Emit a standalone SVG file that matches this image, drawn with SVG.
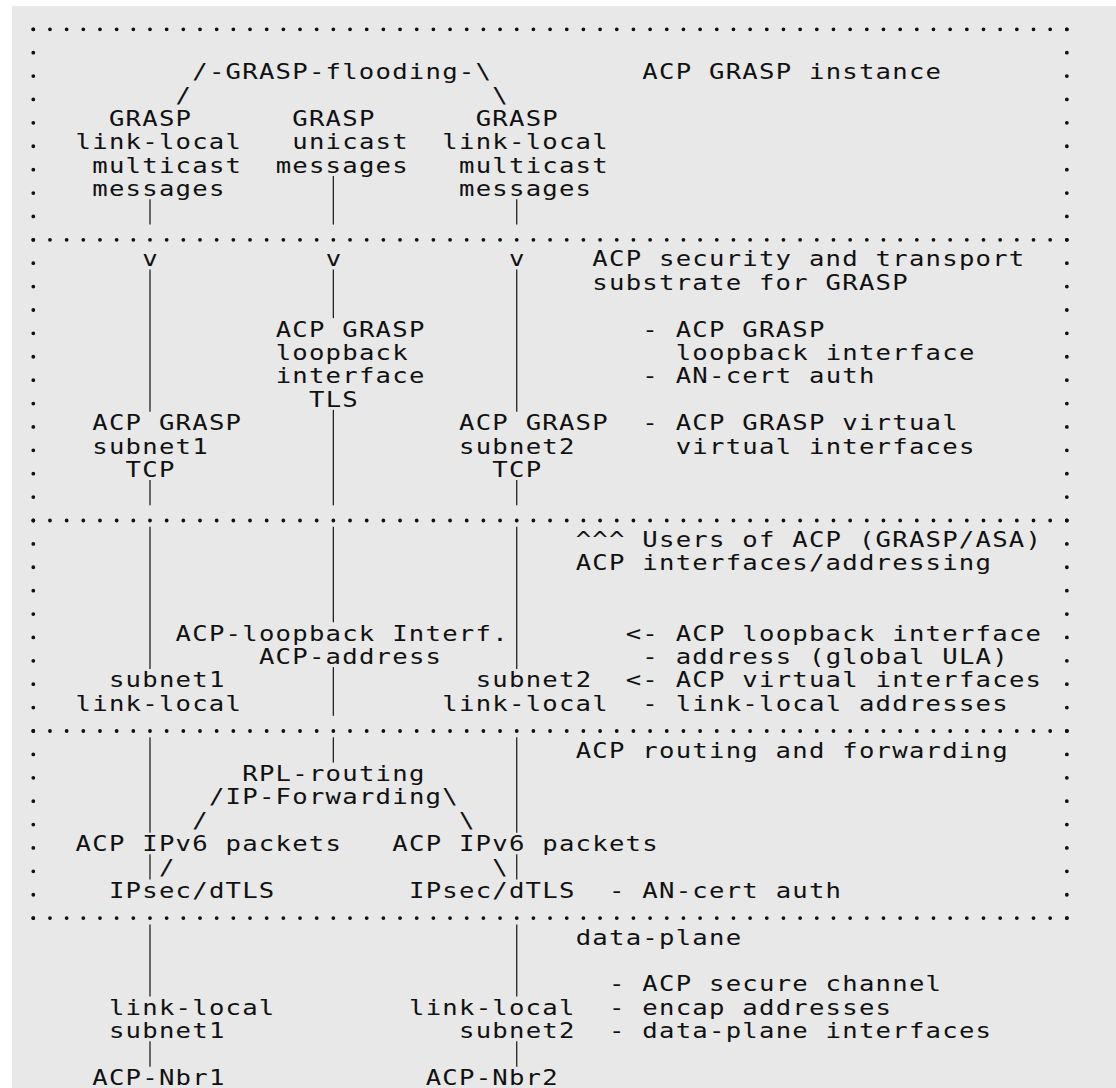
<svg xmlns="http://www.w3.org/2000/svg" width="1116" height="1088" viewBox="0 0 1116 1088">
<style>
text{font-family:"DejaVu Sans Mono","Liberation Mono",monospace;font-size:20.5px;letter-spacing:0.995px;fill:#111;white-space:pre}
.conn line{stroke:#222;stroke-width:1.3;fill:none}
.frame line{stroke:#111;stroke-width:3.8;stroke-linecap:round}
.h{stroke-dasharray:0 16.67}
.v{stroke-dasharray:0 23.39}
</style>
<rect x="12" y="6" width="1104" height="1082" fill="#e8e8e8"/>
<g id="frame" class="frame">
<line class="h" x1="33.3" y1="29.3" x2="1066.9" y2="29.3"/>
<line class="h" x1="33.3" y1="239.81" x2="1066.9" y2="239.81"/>
<line class="h" x1="33.3" y1="520.49" x2="1066.9" y2="520.49"/>
<line class="h" x1="33.3" y1="731.0" x2="1066.9" y2="731.0"/>
<line class="h" x1="33.3" y1="918.12" x2="1066.9" y2="918.12"/>
<line class="v" x1="33.3" y1="29.3" x2="33.3" y2="918.2"/>
<line class="v" x1="1066.84" y1="29.3" x2="1066.84" y2="918.2"/>
</g>
<g id="connectors" class="conn">
<line x1="149.99" y1="199.32" x2="149.99" y2="224.62"/>
<line x1="149.99" y1="269.49" x2="149.99" y2="411.74"/>
<line x1="149.99" y1="480.0" x2="149.99" y2="505.3"/>
<line x1="149.99" y1="526.78" x2="149.99" y2="669.03"/>
<line x1="149.99" y1="737.29" x2="149.99" y2="832.76"/>
<line x1="149.99" y1="854.24" x2="149.99" y2="879.54"/>
<line x1="149.99" y1="924.41" x2="149.99" y2="996.49"/>
<line x1="149.99" y1="1041.36" x2="149.99" y2="1066.66"/>
<line x1="333.36" y1="175.93" x2="333.36" y2="224.62"/>
<line x1="333.36" y1="269.49" x2="333.36" y2="318.18"/>
<line x1="333.36" y1="409.83" x2="333.36" y2="505.3"/>
<line x1="333.36" y1="526.78" x2="333.36" y2="622.25"/>
<line x1="333.36" y1="667.12" x2="333.36" y2="715.81"/>
<line x1="333.36" y1="737.29" x2="333.36" y2="762.59"/>
<line x1="516.73" y1="199.32" x2="516.73" y2="224.62"/>
<line x1="516.73" y1="269.49" x2="516.73" y2="411.74"/>
<line x1="516.73" y1="480.0" x2="516.73" y2="505.3"/>
<line x1="516.73" y1="526.78" x2="516.73" y2="669.03"/>
<line x1="516.73" y1="737.29" x2="516.73" y2="832.76"/>
<line x1="516.73" y1="854.24" x2="516.73" y2="879.54"/>
<line x1="516.73" y1="924.41" x2="516.73" y2="996.49"/>
<line x1="516.73" y1="1041.36" x2="516.73" y2="1066.66"/>
<g transform="scale(1.25 1)">
<text x="113.82" y="266.4">v</text>
<text x="260.52" y="266.4">v</text>
<text x="407.21" y="266.4">v</text>
<text x="140.49" y="102.67">/</text>
<text x="393.88" y="102.67">\</text>
<text x="153.83" y="827.76">/</text>
<text x="367.21" y="827.76">\</text>
<text x="127.16" y="874.54">/</text>
<text x="393.88" y="874.54">\</text>
</g>
</g>
<g id="labels" transform="scale(1.25 1)">
<g id="grasp-instance-title"><text x="513.9" y="79.28">ACP GRASP instance</text></g>
<g id="grasp-flooding"><text x="153.83" y="79.28">/-GRASP-flooding-\</text></g>
<g id="grasp-mcast-1">
<text x="87.15" y="126.06">GRASP</text>
<text x="60.48" y="149.45">link-local</text>
<text x="73.81" y="172.84">multicast</text>
<text x="73.81" y="196.23">messages</text>
</g>
<g id="grasp-unicast">
<text x="233.85" y="126.06">GRASP</text>
<text x="233.85" y="149.45">unicast</text>
<text x="220.51" y="172.84">messages</text>
</g>
<g id="grasp-mcast-2">
<text x="380.54" y="126.06">GRASP</text>
<text x="353.87" y="149.45">link-local</text>
<text x="367.21" y="172.84">multicast</text>
<text x="367.21" y="196.23">messages</text>
</g>
<g id="security-title">
<text x="473.89" y="266.4">ACP security and transport</text>
<text x="473.89" y="289.79">substrate for GRASP</text>
</g>
<g id="security-notes">
<text x="513.9" y="336.57">- ACP GRASP</text>
<text x="540.57" y="359.96">loopback interface</text>
<text x="513.9" y="383.35">- AN-cert auth</text>
<text x="513.9" y="430.13">- ACP GRASP virtual</text>
<text x="540.57" y="453.52">virtual interfaces</text>
</g>
<g id="grasp-loopback-tls">
<text x="220.51" y="336.57">ACP GRASP</text>
<text x="220.51" y="359.96">loopback</text>
<text x="220.51" y="383.35">interface</text>
<text x="247.18" y="406.74">TLS</text>
</g>
<g id="grasp-subnet1-tcp">
<text x="73.81" y="430.13">ACP GRASP</text>
<text x="73.81" y="453.52">subnet1</text>
<text x="100.49" y="476.91">TCP</text>
</g>
<g id="grasp-subnet2-tcp">
<text x="367.21" y="430.13">ACP GRASP</text>
<text x="367.21" y="453.52">subnet2</text>
<text x="393.88" y="476.91">TCP</text>
</g>
<g id="interfaces-title">
<text x="460.56" y="547.08">^^^ Users of ACP (GRASP/ASA)</text>
<text x="460.56" y="570.47">ACP interfaces/addressing</text>
</g>
<g id="acp-loopback">
<text x="140.49" y="640.64">ACP-loopback Interf.</text>
<text x="207.17" y="664.03">ACP-address</text>
</g>
<g id="subnet1-link-local">
<text x="87.15" y="687.42">subnet1</text>
<text x="60.48" y="710.81">link-local</text>
</g>
<g id="subnet2-link-local">
<text x="380.54" y="687.42">subnet2</text>
<text x="353.87" y="710.81">link-local</text>
</g>
<g id="interfaces-notes">
<text x="500.57" y="640.64">&lt;- ACP loopback interface</text>
<text x="513.9" y="664.03">- address (global ULA)</text>
<text x="500.57" y="687.42">&lt;- ACP virtual interfaces</text>
<text x="513.9" y="710.81">- link-local addresses</text>
</g>
<g id="routing-title"><text x="460.56" y="757.59">ACP routing and forwarding</text></g>
<g id="rpl-routing">
<text x="193.84" y="780.98">RPL-routing</text>
<text x="167.17" y="804.37">/IP-Forwarding\</text>
</g>
<g id="ipv6-packets-1"><text x="60.48" y="851.15">ACP IPv6 packets</text></g>
<g id="ipv6-packets-2"><text x="313.86" y="851.15">ACP IPv6 packets</text></g>
<g id="ipsec-1"><text x="87.15" y="897.93">IPsec/dTLS</text></g>
<g id="ipsec-2"><text x="327.2" y="897.93">IPsec/dTLS</text></g>
<g id="routing-notes"><text x="487.23" y="897.93">- AN-cert auth</text></g>
<g id="data-plane">
<text x="460.56" y="944.71">data-plane</text>
<text x="487.23" y="991.49">- ACP secure channel</text>
<text x="487.23" y="1014.88">- encap addresses</text>
<text x="487.23" y="1038.27">- data-plane interfaces</text>
</g>
<g id="link-local-subnet1">
<text x="87.15" y="1014.88">link-local</text>
<text x="87.15" y="1038.27">subnet1</text>
</g>
<g id="link-local-subnet2">
<text x="327.2" y="1014.88">link-local</text>
<text x="367.21" y="1038.27">subnet2</text>
</g>
<g id="acp-nbr1"><text x="73.81" y="1085.05">ACP-Nbr1</text></g>
<g id="acp-nbr2"><text x="340.53" y="1085.05">ACP-Nbr2</text></g>
</g>
</svg>
